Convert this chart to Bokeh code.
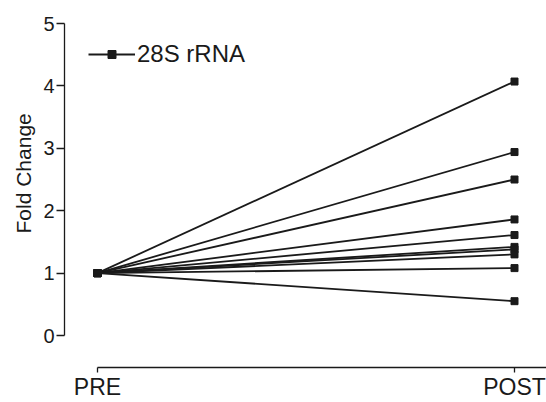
from bokeh.plotting import figure
from bokeh.models import Range1d, LinearAxis, FixedTicker, Title
from bokeh.embed import file_html
from bokeh.resources import INLINE

# ---- data ----
x_labels = ["PRE", "POST"]
pre_values = [1.0, 1.0, 1.0, 1.0, 1.0, 1.0, 1.0, 1.0, 1.0, 1.0]
post_values = [4.07, 2.94, 2.50, 1.86, 1.61, 1.42, 1.38, 1.30, 1.08, 0.55]
y_ticks = [0, 1, 2, 3, 4, 5]
series_name = "28S rRNA"
y_title = "Fold Change"

FONT = "Liberation Sans"
INK = "#1a1a1a"

W, H = 546, 402
left_b, right_b, top_b, bottom_b = 64, 0, 20, 35
frame_w = W - left_b - right_b
frame_h = H - top_b - bottom_b

# pixel placements (figure coords)
pre_px, post_px = 97 - left_b, 514 - left_b
sx = post_px - pre_px
x_start = -pre_px / sx
x_end = x_start + frame_w / sx
y0_px = 335 - top_b  # from frame top
y5_px = 23 - top_b
sy = (y0_px - y5_px) / 5.0
y_end = 5 + y5_px / sy
y_start = y_end - frame_h / sy

p = figure(width=W, height=H, output_backend="svg", toolbar_location=None,
           x_range=Range1d(x_start, x_end), y_range=Range1d(y_start, y_end),
           x_axis_location=None, y_axis_location=None,
           min_border_left=left_b, min_border_right=right_b,
           min_border_top=top_b, min_border_bottom=bottom_b)
p.grid.visible = False
p.outline_line_color = None
p.background_fill_color = "white"

xs = [[0, 1] for _ in post_values]
ys = [[a, b] for a, b in zip(pre_values, post_values)]
p.multi_line(xs=xs, ys=ys, line_color=INK, line_width=1.8, legend_label=series_name)
pts_x = [0] * len(pre_values) + [1] * len(post_values)
pts_y = pre_values + post_values
p.scatter(x=pts_x, y=pts_y, marker="square", size=7, fill_color=INK,
          line_color=INK, legend_label=series_name)

xaxis = LinearAxis(ticker=FixedTicker(ticks=[0, 1]),
                   major_label_overrides={0: x_labels[0], 1: x_labels[1]},
                   bounds=(0, 3))
xaxis.major_tick_in = 0
xaxis.major_tick_out = 5
xaxis.minor_tick_line_color = None
xaxis.axis_line_color = INK
xaxis.axis_line_width = 1.3
xaxis.major_tick_line_color = INK
xaxis.major_tick_line_width = 1.3
xaxis.major_label_standoff = 1
xaxis.major_label_text_font = FONT
xaxis.major_label_text_font_size = "23px"
xaxis.major_label_text_color = INK
p.add_layout(xaxis, "below")

yaxis = LinearAxis(ticker=FixedTicker(ticks=y_ticks), bounds=(0, 5))
yaxis.major_tick_in = 0
yaxis.major_tick_out = 8
yaxis.minor_tick_line_color = None
yaxis.axis_line_color = INK
yaxis.axis_line_width = 1.3
yaxis.major_tick_line_color = INK
yaxis.major_tick_line_width = 1.3
yaxis.major_label_standoff = 2
yaxis.major_label_text_font = FONT
yaxis.major_label_text_font_size = "20px"
yaxis.major_label_text_color = INK
p.add_layout(yaxis, "left")

# y-axis title as a side-panel title, shifted to sit over the 0..5 span
frame_bottom = H - bottom_b
ytitle = Title(text=y_title, align="left", offset=frame_bottom - 233,
               text_font=FONT, text_font_size="21px", text_font_style="normal",
               text_color=INK, standoff=11)
p.add_layout(ytitle, "left")

lg = p.legend[0]
lg.location = (24, frame_h - 48)
lg.margin = 0
lg.padding = 0
lg.border_line_color = None
lg.background_fill_alpha = 0
lg.glyph_width = 47
lg.glyph_height = 20
lg.label_standoff = 2
lg.label_text_font = FONT
lg.label_text_font_size = "24px"
lg.label_text_color = INK

open("out.html", "w").write(file_html(p, INLINE))
